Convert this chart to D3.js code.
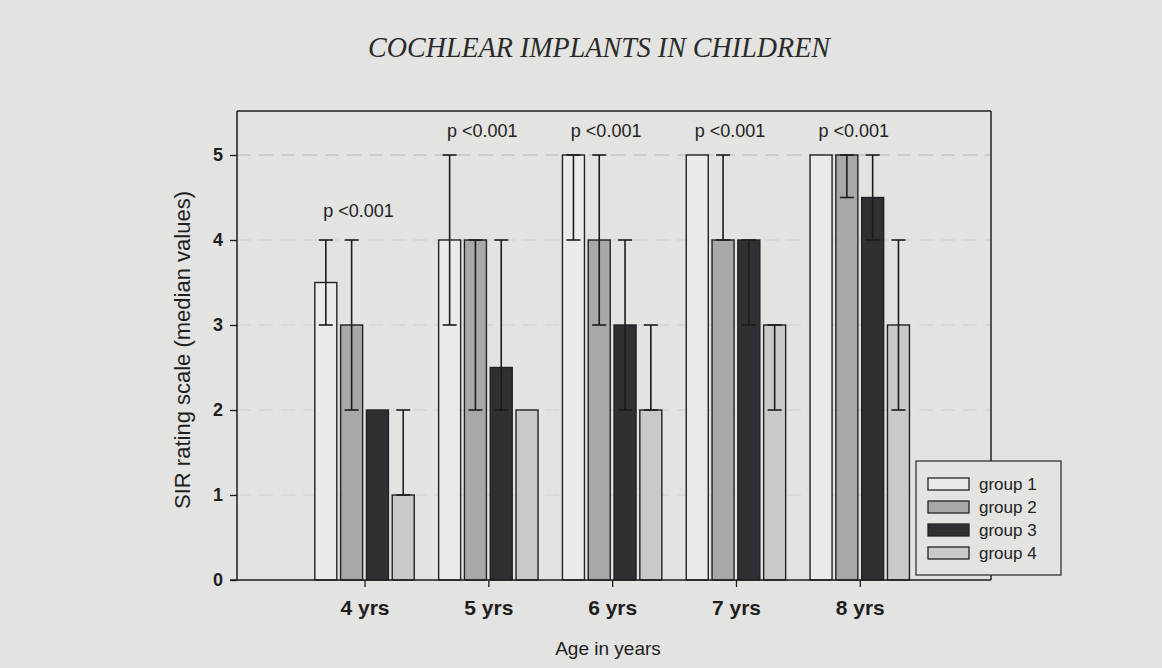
<!DOCTYPE html>
<html><head><meta charset="utf-8">
<script src="https://cdn.jsdelivr.net/npm/d3@7"></script>
<style>
html,body{margin:0;padding:0;background:#e3e3e1;}
svg{display:block;}
</style></head>
<body>
<svg id="chart" width="1162" height="668"></svg>
<script>
// ---- data ----
const ages = [4, 5, 6, 7, 8];
const ageLabels = ["4 yrs", "5 yrs", "6 yrs", "7 yrs", "8 yrs"];
const groups = ["group 1", "group 2", "group 3", "group 4"];
// medians per group, per age
const medians = [
  [3.5, 4, 5, 5, 5],
  [3, 4, 4, 4, 5],
  [2, 2.5, 3, 4, 4.5],
  [1, 2, 2, 3, 3]
];
// interquartile ranges (low, high); null = none drawn
const lows = [
  [3, 3, 4, null, null],
  [2, 2, 3, 4, 4.5],
  [null, 2, 2, 3, 4],
  [1, null, 2, 2, 2]
];
const highs = [
  [4, 5, 5, null, null],
  [4, 4, 5, 5, 5],
  [null, 4, 4, 4, 5],
  [2, null, 3, 3, 4]
];
const pLabels = ["p <0.001", "p <0.001", "p <0.001", "p <0.001", "p <0.001"];
const pLevels = [4.35, 5.3, 5.3, 5.3, 5.3];
const yTicks = [0, 1, 2, 3, 4, 5];

// ---- layout ----
const mLeft = 237, mRight = 991, mTop = 111, mBottom = 580;
const fills = ["#ebeaea", "#a8a8a8", "#303034", "#c9c9c9"];
const svg = d3.select("#chart");

const x = d3.scaleLinear().domain([2.97, 9.06]).range([mLeft, mRight]);
const y = d3.scaleLinear().domain([0, 5]).range([mBottom, 155]);
const step = 25.8, barW = 22;

// faint dashed gridlines
svg.append("g").selectAll("line").data(yTicks.filter(d => d > 0)).join("line")
  .attr("x1", mLeft).attr("x2", mRight)
  .attr("y1", d => y(d)).attr("y2", d => y(d))
  .attr("stroke", d => d === 5 ? "#b8b8b8" : "#cfcfcf")
  .attr("stroke-width", 1.2)
  .attr("stroke-dasharray", "14,8");

// frame top & right
svg.append("line").attr("x1", mLeft).attr("x2", mRight).attr("y1", mTop).attr("y2", mTop)
  .attr("stroke", "#222").attr("stroke-width", 1.5);
svg.append("line").attr("x1", mRight).attr("x2", mRight).attr("y1", mTop).attr("y2", mBottom)
  .attr("stroke", "#222").attr("stroke-width", 1.5);

// bars
const bars = [];
groups.forEach((g, gi) => ages.forEach((a, ai) => {
  bars.push({gi, a, v: medians[gi][ai], lo: lows[gi][ai], hi: highs[gi][ai]});
}));
const bx = d => x(d.a) + (d.gi - 1.5) * step;

svg.append("g").selectAll("rect").data(bars).join("rect")
  .attr("x", d => bx(d) - barW / 2)
  .attr("width", barW)
  .attr("y", d => y(d.v))
  .attr("height", d => y(0) - y(d.v))
  .attr("fill", d => fills[d.gi])
  .attr("stroke", "#1f2326")
  .attr("stroke-width", 1.4);

// error bars
const eb = svg.append("g").attr("stroke", "#1c1c1c").attr("stroke-width", 1.6);
bars.filter(d => d.lo !== null).forEach(d => {
  const cx = bx(d);
  eb.append("line").attr("x1", cx).attr("x2", cx).attr("y1", y(d.lo)).attr("y2", y(d.hi));
  [d.lo, d.hi].forEach(v => eb.append("line")
    .attr("x1", cx - 7).attr("x2", cx + 7).attr("y1", y(v)).attr("y2", y(v)));
});

// axes
const yAxis = d3.axisLeft(y).tickValues(yTicks).tickSize(7).tickPadding(7).tickFormat(d3.format("d"));
const gy = svg.append("g").attr("transform", `translate(${mLeft},0)`).call(yAxis);
gy.select(".domain").attr("d", `M-7,${y(0)}H0V${mTop}`).attr("stroke", "#1c1c1c").attr("stroke-width", 1.5);
gy.selectAll(".tick line").attr("stroke", "#1c1c1c").attr("stroke-width", 1.3);
gy.selectAll("text").attr("font-family", "Liberation Sans, Arial, sans-serif")
  .attr("font-size", 18).attr("font-weight", "bold").attr("fill", "#1e1e1e");

const xAxis = d3.axisBottom(x).tickValues(ages).tickSize(7).tickPadding(13)
  .tickFormat((d, i) => ageLabels[i]);
const gx = svg.append("g").attr("transform", `translate(0,${mBottom})`).call(xAxis);
gx.select(".domain").attr("d", `M${mLeft},0H${mRight}`).attr("stroke", "#1c1c1c").attr("stroke-width", 1.5);
gx.selectAll(".tick line").attr("stroke", "#1c1c1c").attr("stroke-width", 1.3);
gx.selectAll("text").attr("font-family", "Liberation Sans, Arial, sans-serif")
  .attr("font-size", 21).attr("font-weight", "bold").attr("fill", "#1e1e1e");

// p labels
svg.append("g").selectAll("text").data(ages).join("text")
  .attr("x", (d, i) => x(d) - 6)
  .attr("y", (d, i) => y(pLevels[i]) + 7)
  .attr("text-anchor", "middle")
  .attr("font-family", "Liberation Sans, Arial, sans-serif")
  .attr("font-size", 18).attr("fill", "#222")
  .text((d, i) => pLabels[i]);

// titles
svg.append("text").attr("x", 599).attr("y", 57).attr("text-anchor", "middle")
  .attr("font-family", "Liberation Serif, Times New Roman, serif")
  .attr("font-style", "italic").attr("font-size", 29).attr("fill", "#2a2a2a")
  .attr("textLength", 462).attr("lengthAdjust", "spacingAndGlyphs")
  .text("COCHLEAR IMPLANTS IN CHILDREN");

svg.append("text").attr("x", 608).attr("y", 655).attr("text-anchor", "middle")
  .attr("font-family", "Liberation Sans, Arial, sans-serif")
  .attr("font-size", 19).attr("fill", "#1e1e1e")
  .text("Age in years");

svg.append("text")
  .attr("transform", "translate(190,350) rotate(-90)")
  .attr("text-anchor", "middle")
  .attr("font-family", "Liberation Sans, Arial, sans-serif")
  .attr("font-size", 22).attr("fill", "#1e1e1e")
  .text("SIR rating scale (median values)");

// legend
const lg = svg.append("g");
lg.append("rect").attr("x", 916).attr("y", 461).attr("width", 145).attr("height", 114)
  .attr("fill", "#e3e3e1").attr("stroke", "#333").attr("stroke-width", 1.3);
const li = lg.selectAll("g").data(groups).join("g")
  .attr("transform", (d, i) => `translate(928,${484 + i * 23})`);
li.append("rect").attr("x", 0).attr("y", -6).attr("width", 41).attr("height", 12)
  .attr("fill", (d, i) => fills[i]).attr("stroke", "#222").attr("stroke-width", 1.3);
li.append("text").attr("x", 51).attr("y", 6)
  .attr("font-family", "Liberation Sans, Arial, sans-serif")
  .attr("font-size", 17).attr("fill", "#222")
  .text(d => d);
</script>
</body></html>
